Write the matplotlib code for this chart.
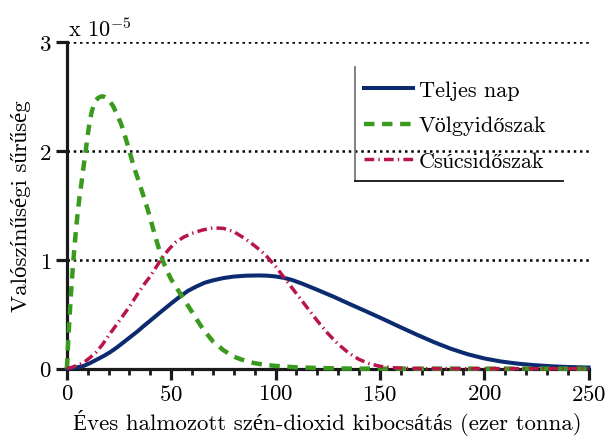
import numpy as np
import matplotlib
matplotlib.use("Agg")
import matplotlib.pyplot as plt
from matplotlib.lines import Line2D

# density curves, values in units of 1e-5
x_teljes = [0, 4, 8, 11, 14.5, 18, 21, 24, 27, 30, 34, 37, 40, 43, 46.5, 50,
            54, 58, 62, 66, 70, 75, 80, 86, 92, 96, 100, 104, 108, 113, 120,
            128, 136, 144, 152, 160, 168, 176, 184, 192, 200, 208, 216, 224,
            232, 240, 250]
teljes_nap = [0, 0.008, 0.025, 0.05, 0.085, 0.12, 0.155, 0.195, 0.24, 0.285,
              0.345, 0.395, 0.442, 0.49, 0.545, 0.60, 0.66, 0.715, 0.755,
              0.79, 0.812, 0.833, 0.847, 0.855, 0.857, 0.855, 0.848, 0.835,
              0.815, 0.78, 0.725, 0.66, 0.59, 0.522, 0.452, 0.38, 0.31, 0.243,
              0.183, 0.133, 0.094, 0.066, 0.046, 0.032, 0.022, 0.015, 0.01]

x_volgy = [0, 0.5, 1, 2, 3, 4, 5, 6, 7, 8, 9, 10, 11, 12, 13, 14, 15, 16, 17,
           18, 19, 20, 22, 24, 26, 28, 30, 32, 34, 36, 38, 40, 42, 44, 46, 48,
           50, 52, 54, 57, 60, 65, 70, 75, 80, 85, 90, 95, 100, 110, 120, 130,
           140, 250]
volgyidoszak = [0, 0.2, 0.38, 0.7, 0.97, 1.2, 1.4, 1.57, 1.71, 1.86, 2.0,
                2.15, 2.28, 2.37, 2.43, 2.47, 2.49, 2.5, 2.505, 2.5, 2.49,
                2.47, 2.42, 2.34, 2.25, 2.13, 2.0, 1.86, 1.75, 1.63, 1.51,
                1.38, 1.24, 1.11, 0.99, 0.90, 0.82, 0.76, 0.70, 0.61, 0.52,
                0.37, 0.25, 0.17, 0.11, 0.075, 0.05, 0.035, 0.025, 0.012,
                0.006, 0.002, 0, 0]

x_csucs = [0, 2, 5, 8, 11, 14, 17, 21, 24, 27, 30, 34, 37, 40, 43, 46, 49, 52,
           56, 60, 65, 70, 75, 80, 85, 90, 95, 100, 105, 110, 115, 120, 125,
           130, 135, 140, 145, 150, 155, 160, 170, 250]
csucsidoszak = [0, 0.01, 0.03, 0.055, 0.10, 0.15, 0.22, 0.33, 0.41, 0.49,
                0.57, 0.69, 0.775, 0.85, 0.94, 1.03, 1.10, 1.16, 1.21, 1.245,
                1.275, 1.295, 1.29, 1.26, 1.20, 1.13, 1.05, 0.94, 0.815, 0.69,
                0.565, 0.44, 0.325, 0.225, 0.145, 0.085, 0.045, 0.022, 0.01,
                0.005, 0, 0]

labels = ["Teljes nap", "Völgyidőszak", "Csúcsidőszak"]
colors = ["#0b2a6f", "#3a9a1e", "#b8164a"]

plt.rcParams["font.family"] = ["cmr10", "Liberation Serif"]
plt.rcParams["mathtext.fontset"] = "cm"
plt.rcParams["axes.formatter.use_mathtext"] = True
plt.rcParams["lines.scale_dashes"] = False

fig = plt.figure(figsize=(6.08, 4.39), dpi=100)
ax = fig.add_axes([0.110, 0.158, 0.858, 0.743])

# dotted horizontal grid
for yv in [1, 2, 3]:
    ax.axhline(yv, color="black", lw=1.8, ls=(0, (1.8, 2.7)), zorder=1)

ax.plot(x_teljes, teljes_nap, color=colors[0], lw=2.9, label=labels[0],
        zorder=4, clip_on=False)
ax.plot(x_volgy, volgyidoszak, color=colors[1], lw=3.2, label=labels[1],
        ls=(0, (7.5, 5.5)), dash_capstyle="butt", zorder=4, clip_on=False)
ax.plot(x_csucs, csucsidoszak, color=colors[2], lw=2.5, label=labels[2],
        ls=(0, (7, 3, 1, 3)), dash_capstyle="butt", zorder=4, clip_on=False)

ax.set_xlim(0, 250)
ax.set_ylim(0, 3)
ax.set_xticks(np.arange(0, 251, 50))
ax.set_xticks(np.arange(0, 251, 10), minor=True)
ax.set_yticks([0, 1, 2, 3])

for side in ["top", "right"]:
    ax.spines[side].set_visible(False)
for side in ["left", "bottom"]:
    ax.spines[side].set_linewidth(2.3)
    ax.spines[side].set_color("#1a1a1a")

ax.tick_params(axis="both", which="major", direction="out", length=8,
               width=2.3, color="#1a1a1a", labelsize=16.5, pad=3)
ax.tick_params(axis="x", which="minor", direction="out", length=4.5,
               width=2.0, color="#1a1a1a")

ax.set_xlabel("Éves halmozott szén-dioxid kibocsátás (ezer tonna)",
              fontsize=16.5, labelpad=4)
ax.set_ylabel("Valószínűségi sűrűség", fontsize=16.5, labelpad=6)

ax.text(0.002, 1.02, r"x 10$^{-5}$", transform=ax.transAxes, fontsize=16,
        va="baseline", ha="left")

leg = ax.legend(loc="upper left", bbox_to_anchor=(364 / 608, 1 - 81 / 439),
                bbox_transform=fig.transFigure, frameon=False, borderpad=0,
                borderaxespad=0, handlelength=2.2, handletextpad=0.27,
                labelspacing=0.73, fontsize=16)

# open legend box: left and bottom edges only
fig.add_artist(Line2D([355 / 608, 355 / 608], [1 - 68 / 439, 1 - 182 / 439],
                      transform=fig.transFigure, color="#777777", lw=1.3))
fig.add_artist(Line2D([355 / 608, 563 / 608], [1 - 182 / 439, 1 - 182 / 439],
                      transform=fig.transFigure, color="#111111", lw=1.3))

fig.savefig("out.png", dpi=100)
